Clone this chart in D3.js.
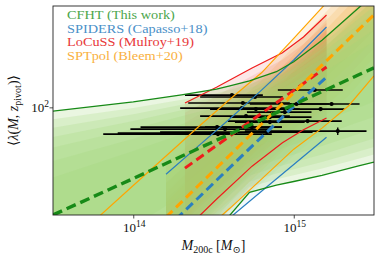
<!DOCTYPE html>
<html>
<head>
<meta charset="utf-8">
<script src="https://cdn.jsdelivr.net/npm/d3@7"></script>
<style>
  body { margin: 0; background: #fff; }
  svg text { font-family: "Liberation Serif", "DejaVu Serif", serif; }
</style>
</head>
<body>
<div id="chart"></div>
<script>
const width = 381;
const height = 262;
const margin = { top: 6, right: 7, bottom: 47, left: 53 };

// masses in units of 1e14 Msun, richness
const cfhtMass = [0.316, 1.0, 2.0, 3.3, 4.0, 5.3, 7.8, 10, 15, 25, 31.6];
const cfhtHi   = [94.6, 108.4, 120.6, 131.3, 138.0, 148.7, 170.4, 197.8, 272.3, 436.9, 541.3];
const cfhtMid  = [20.0, 34.5, 48.1, 61.2, 67.1, 76.7, 92.4, 104.1, 126.5, 161.5, 180.4];
const cfhtLo   = [1.69, 4.81, 9.02, 15.5, 19.95, 28.1, 31.3, 33.0, 36.2, 41.5, 44.1];

const spidersMass = [1.6, 2.5, 4.0, 6.3, 10, 16];
const spidersHi   = [36.8, 55.2, 84.3, 129.4, 203.0, 332.3];
const spidersMid  = [16.3, 25.4, 40.7, 64.1, 101.4, 157.2];
const spidersLo   = [8.66, 12.8, 19.2, 28.5, 42.5, 64.0];

const locussMass = [2.1, 3.3, 5.5, 8.5, 11.5, 16];
const locussHi   = [106.6, 135, 180, 226, 286, 398];
const locussMid  = [40.3, 56.5, 82.6, 114.1, 143.0, 182.8];
const locussLo   = [16.0, 25.3, 41.5, 58.9, 71.5, 85.2];

const sptMass = [0.62, 1.0, 1.6, 2.5, 4.0, 6.3, 10, 15, 22, 31.6];
const sptHi   = [19.8, 31.1, 48.3, 73.4, 112.9, 167.6, 280.2, 444.2, 686, 1027];
const sptMid  = [7.38, 12.0, 19.35, 30.5, 49.0, 77.9, 124.4, 188.1, 277.2, 398.2];
const sptLo   = [3.98, 6.17, 9.52, 14.4, 22.1, 34.2, 53.5, 73.3, 102.4, 159.8];
const sptBandStart = 1.6;

// clusters: mass (1e14), richness, mass range
const clMass = [13.5, 4.12, 5.73, 4.82, 10.4, 17.2, 4.75, 5.81, 14.7, 8.79, 5.04, 7.10, 12.2, 7.10, 3.33, 5.49, 3.73, 18.8, 6.80, 3.37, 3.14];
const clLam  = [129.6, 120.2, 116.7, 106.7, 105.1, 105.1, 98.9, 97.5, 97.5, 93.2, 87.8, 86.5, 81.5, 80.2, 74.4, 74.4, 72.3, 70.1, 69.1, 67.1, 68.1];
const clMlo  = [7.96, 2.10, 2.61, 2.20, 5.33, 9.45, 1.96, 3.01, 7.62, 5.11, 2.61, 4.00, 3.89, 4.30, 1.11, 2.80, 0.96, 4.96, 1.47, 0.65, 0.80];
const clMhi  = [20.2, 6.42, 8.55, 9.45, 16.7, 25.7, 9.45, 10.9, 20.7, 12.9, 9.45, 12.9, 19.9, 11.7, 8.42, 8.42, 7.10, 28.4, 13.1, 7.30, 4.43];
const clLamErr = [2, 2, 2, 2, 2, 2, 2, 2, 2, 2, 2, 2, 2, 2, 2, 2, 2, 4, 2, 2, 2];

const legendLabels = ["CFHT (This work)", "SPIDERS (Capasso+18)", "LoCuSS (Mulroy+19)", "SPTpol (Bleem+20)"];
const xMajor = [1e14, 1e15];
const xMinor = [4e13, 5e13, 6e13, 7e13, 8e13, 9e13, 2e14, 3e14, 4e14, 5e14, 6e14, 7e14, 8e14, 9e14, 2e15, 3e15];
const yMajor = [100];
const yMinor = [20, 30, 40, 50, 60, 70, 80, 90, 200, 300, 400];

const serif = "Liberation Serif, DejaVu Serif, serif";

const svg = d3.select("#chart").append("svg")
    .attr("width", width)
    .attr("height", height)
    .attr("font-family", serif);

const x = d3.scaleLog()
    .domain([Math.pow(10, 13.5), Math.pow(10, 15.5)])
    .range([margin.left, width - margin.right]);
const y = d3.scaleLog()
    .domain([20, 455])
    .range([height - margin.bottom, margin.top]);

svg.append("clipPath").attr("id", "plot-clip")
  .append("rect")
    .attr("x", margin.left).attr("y", margin.top)
    .attr("width", width - margin.left - margin.right)
    .attr("height", height - margin.top - margin.bottom);

const plot = svg.append("g").attr("clip-path", "url(#plot-clip)");

// shaded bands: nested layers, denser toward the mean
function drawBand(mass, lo, mid, hi, color, opacity, fracs) {
    const rows = mass.map((m, i) => ({ m: m * 1e14, lo: lo[i], mid: mid[i], hi: hi[i] }));
    fracs.forEach(t => {
        const area = d3.area()
            .x(d => x(d.m))
            .y0(d => y(Math.exp(Math.log(d.mid) + t * (Math.log(d.lo) - Math.log(d.mid)))))
            .y1(d => y(Math.exp(Math.log(d.mid) + t * (Math.log(d.hi) - Math.log(d.mid)))));
        plot.append("path")
            .datum(rows)
            .attr("d", area)
            .attr("fill", color)
            .attr("fill-opacity", opacity)
            .attr("stroke", "none");
    });
}

const sptIdx = sptMass.map((m, i) => i).filter(i => sptMass[i] >= sptBandStart);
const pick = (arr) => sptIdx.map(i => arr[i]);

const otherFracs = [1, 0.85, 0.7, 0.55, 0.4, 0.25];
const greenFracs = [1, 0.92, 0.84, 0.75, 0.65, 0.52, 0.36];
drawBand(spidersMass, spidersLo, spidersMid, spidersHi, "rgb(95,165,205)", 0.08, otherFracs);
drawBand(locussMass, locussLo, locussMid, locussHi, "rgb(235,95,95)", 0.15, otherFracs);
drawBand(pick(sptMass), pick(sptLo), pick(sptMid), pick(sptHi), "rgb(242,145,10)", 0.12, otherFracs);
drawBand(cfhtMass, cfhtLo, cfhtMid, cfhtHi, "rgb(160,213,118)", 0.22, greenFracs);

// cluster measurements
const pts = plot.append("g");
clMass.forEach((m, i) => {
    pts.append("line")
        .attr("x1", x(clMlo[i] * 1e14)).attr("x2", x(clMhi[i] * 1e14))
        .attr("y1", y(clLam[i])).attr("y2", y(clLam[i]))
        .attr("stroke", "#000").attr("stroke-width", 1.7);
    pts.append("line")
        .attr("x1", x(m * 1e14)).attr("x2", x(m * 1e14))
        .attr("y1", y(clLam[i] - clLamErr[i])).attr("y2", y(clLam[i] + clLamErr[i]))
        .attr("stroke", "#000").attr("stroke-width", 1.4);
    pts.append("circle")
        .attr("cx", x(m * 1e14)).attr("cy", y(clLam[i]))
        .attr("r", 2.1).attr("fill", "#000");
});

// model lines
function drawLine(mass, vals, color, w, dash) {
    const line = d3.line().x(d => x(d[0] * 1e14)).y(d => y(d[1]));
    plot.append("path")
        .datum(mass.map((m, i) => [m, vals[i]]))
        .attr("d", line)
        .attr("fill", "none")
        .attr("stroke", color)
        .attr("stroke-width", w)
        .attr("stroke-dasharray", dash || null);
}

const cBlue = "#2a7fc1", cRed = "#f01c1c", cOrange = "#ffa500", cGreen = "#178a17";
drawLine(spidersMass, spidersHi, cBlue, 1.2);
drawLine(spidersMass, spidersLo, cBlue, 1.2);
drawLine(spidersMass, spidersMid, cBlue, 3, "9,5");
drawLine(locussMass, locussHi, cRed, 1.2);
drawLine(locussMass, locussLo, cRed, 1.2);
drawLine(locussMass, locussMid, cRed, 3, "9,5");
drawLine(sptMass, sptHi, cOrange, 1.2);
drawLine(sptMass, sptLo, cOrange, 1.2);
drawLine(sptMass.filter(m => m >= sptBandStart), sptMid.filter((v, i) => sptMass[i] >= sptBandStart), cOrange, 3, "9,5");
drawLine(cfhtMass, cfhtHi, cGreen, 1.3);
drawLine(cfhtMass, cfhtLo, cGreen, 1.3);
drawLine(cfhtMass, cfhtMid, cGreen, 3.4, "10,5");

// legend
const legendColors = ["#4ca64c", "#4a90c8", "#e8383a", "#f9b040"];
legendLabels.forEach((t, i) => {
    const lt = svg.append("text")
        .attr("x", 67)
        .attr("y", 19 + i * 13.7)
        .attr("font-family", serif)
        .attr("font-size", 13.5)
        .attr("fill", legendColors[i])
        .text(t);
    const w = lt.node().getComputedTextLength();
    lt.attr("textLength", w * 1.06).attr("lengthAdjust", "spacingAndGlyphs");
});

// axes
const plotBottom = height - margin.bottom;
const gx = svg.append("g").attr("transform", `translate(0,${plotBottom})`);
gx.call(d3.axisBottom(x).tickValues(xMinor).tickSize(2).tickFormat(""));
gx.call(d3.axisBottom(x).tickValues(xMajor).tickSize(3.5).tickFormat(""));
gx.selectAll(".domain").remove();
gx.selectAll("line").attr("stroke", "#222").attr("stroke-width", 0.8);

xMajor.forEach(v => {
    const t = svg.append("text")
        .attr("x", x(v) + 1)
        .attr("y", plotBottom + 17)
        .attr("text-anchor", "middle")
        .attr("font-family", serif)
        .attr("font-size", 13)
        .attr("fill", "#111");
    t.append("tspan").text("10");
    t.append("tspan").attr("dy", -5).attr("font-size", 9.5).text(Math.round(Math.log10(v)));
});

const gy = svg.append("g").attr("transform", `translate(${margin.left},0)`);
gy.call(d3.axisLeft(y).tickValues(yMinor).tickSize(2).tickFormat(""));
gy.call(d3.axisLeft(y).tickValues(yMajor).tickSize(3.5).tickFormat(""));
gy.selectAll(".domain").remove();
gy.selectAll("line").attr("stroke", "#222").attr("stroke-width", 0.8);

yMajor.forEach(v => {
    const t = svg.append("text")
        .attr("x", margin.left - 4)
        .attr("y", y(v) + 5)
        .attr("text-anchor", "end")
        .attr("font-family", serif)
        .attr("font-size", 13)
        .attr("fill", "#111");
    t.append("tspan").text("10");
    t.append("tspan").attr("dy", -5).attr("font-size", 9.5).text(Math.round(Math.log10(v)));
});

// frame
svg.append("rect")
    .attr("x", margin.left).attr("y", margin.top)
    .attr("width", width - margin.left - margin.right)
    .attr("height", height - margin.top - margin.bottom)
    .attr("fill", "none")
    .attr("stroke", "#222")
    .attr("stroke-width", 0.9);

// axis labels
const xl = svg.append("text")
    .attr("x", (margin.left + width - margin.right) / 2)
    .attr("y", 250)
    .attr("text-anchor", "middle")
    .attr("font-family", serif)
    .attr("font-size", 14)
    .attr("fill", "#111");
xl.append("tspan").attr("font-style", "italic").text("M");
xl.append("tspan").attr("dy", 3).attr("font-size", 10).text("200c");
xl.append("tspan").attr("dy", -3).text(" [");
xl.append("tspan").attr("font-style", "italic").text("M");
xl.append("tspan").attr("dy", 3).attr("font-size", 10).text("⊙");
xl.append("tspan").attr("dy", -3).text("]");

const yl = svg.append("text")
    .attr("transform", `translate(18,${(margin.top + plotBottom) / 2}) rotate(-90)`)
    .attr("text-anchor", "middle")
    .attr("font-family", serif)
    .attr("font-size", 14)
    .attr("fill", "#111");
yl.append("tspan").text("⟨");
yl.append("tspan").attr("font-style", "italic").text("λ");
yl.append("tspan").text("(");
yl.append("tspan").attr("font-style", "italic").text("M");
yl.append("tspan").text(", ");
yl.append("tspan").attr("font-style", "italic").text("z");
yl.append("tspan").attr("dy", 3).attr("font-size", 10).text("pivot");
yl.append("tspan").attr("dy", -3).text(")⟩");
</script>
</body>
</html>
